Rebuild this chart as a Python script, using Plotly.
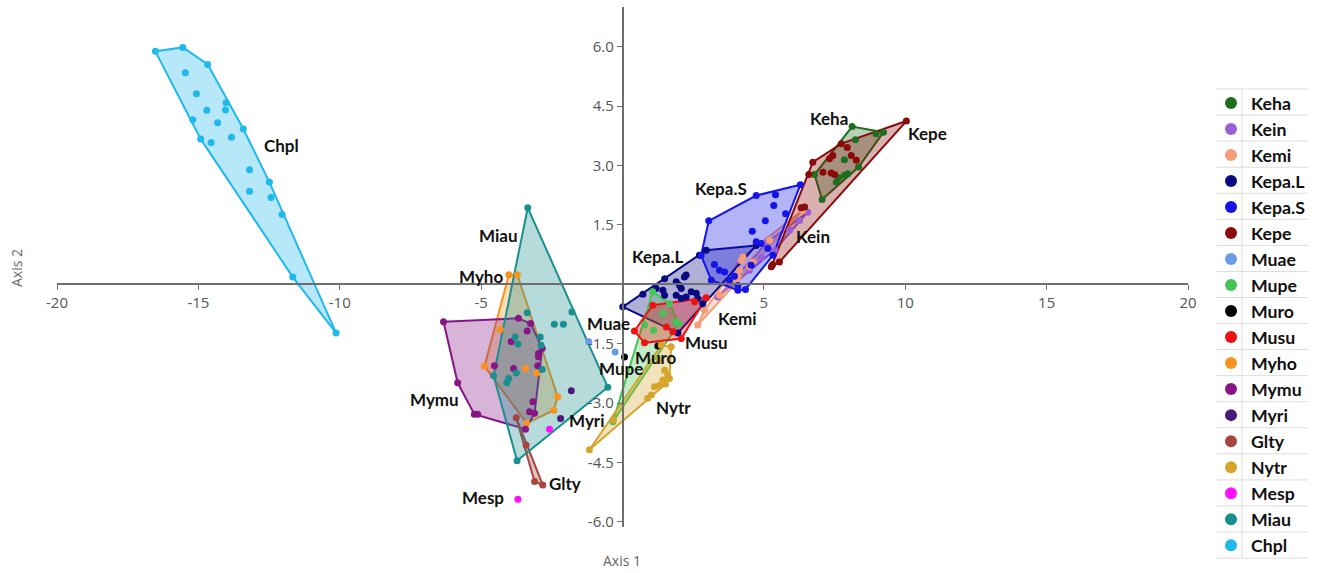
import plotly.graph_objects as go

# ---------------- data ----------------
GROUPS = ["Keha", "Kein", "Kemi", "Kepa.L", "Kepa.S", "Kepe", "Muae", "Mupe", "Muro",
          "Musu", "Myho", "Mymu", "Myri", "Glty", "Nytr", "Mesp", "Miau", "Chpl"]

KEHA_X = [8.12, 8.97, 9.23, 8.35, 7.06, 6.79, 8.24, 7.85, 7.65, 7.85, 7.97, 7.56]
KEHA_Y = [3.98, 3.80, 3.84, 2.96, 2.14, 2.77, 3.65, 3.14, 2.69, 2.75, 2.79, 2.58]

KEIN_X = [3.37, 3.96, 4.49, 4.91, 5.14, 5.38, 5.91, 6.26, 6.55]
KEIN_Y = [-0.32, 0.03, 0.35, 0.67, 1.07, 0.86, 1.36, 1.61, 1.82]

KEMI_X = [2.66, 2.90, 3.43, 4.02, 4.08, 4.14, 4.20, 4.26, 4.49, 4.61, 5.20, 6.38]
KEMI_Y = [-1.03, -0.66, -0.28, 0.10, 0.18, 0.35, 0.60, 0.69, 0.44, 0.56, 1.11, 1.87]

KEPAL_X = [0.01, 0.72, 1.19, 1.43, 1.49, 1.49, 1.90, 2.02, 2.08, 2.19, 2.25, 1.90,
           2.08, 2.25, 2.43, 2.61, 2.66, 2.84, 1.96, 2.72, 2.96, 4.73]
KEPAL_Y = [-0.57, -0.25, -0.11, -0.15, -0.28, 0.14, 0.06, -0.03, -0.11, 0.18, 0.23, -0.28,
           -0.36, -0.32, -0.19, -0.23, -0.36, -0.49, -1.23, 0.73, 0.86, 0.98]

KEPAS_X = [3.05, 4.73, 5.41, 6.29, 5.32, 4.35, 4.08, 3.14, 2.78, 5.35, 5.77, 5.05,
           4.59, 4.73, 4.90, 5.14, 3.25, 3.43, 3.61, 3.78, 3.96, 4.55, 4.08]
KEPAS_Y = [1.60, 2.24, 2.26, 2.51, 0.73, -0.13, -0.15, 0.10, 0.73, 1.99, 1.78, 1.60,
           1.34, 1.07, 1.03, 0.90, 0.50, 0.35, 0.31, 0.10, 0.20, 0.48, -0.03]

KEPE_X = [10.04, 6.73, 6.59, 5.31, 5.26, 5.55, 7.74, 7.44, 7.32, 8.09, 8.27, 7.09,
          7.38, 7.50, 6.32, 6.44, 7.95]
KEPE_Y = [4.12, 3.08, 2.77, 0.50, 0.44, 0.56, 3.55, 3.25, 3.17, 3.25, 3.13, 2.83,
          2.81, 2.77, 1.93, 1.95, 3.45]

MUAE_X = [-1.19, -0.26]
MUAE_Y = [-1.45, -1.71]

MUPE_X = [1.07, 1.66, 1.99, 1.43, 0.78, 1.10, -0.34, 1.90]
MUPE_Y = [-0.19, -0.49, -0.99, -0.74, -1.03, -1.16, -3.47, -0.95]

MURO_X = [0.07, 1.25]
MURO_Y = [-1.84, -1.56]

MUSU_X = [1.07, 2.96, 2.08, 0.78, 0.42, 1.55, 1.78, 2.55]
MUSU_Y = [-0.53, -0.34, -1.37, -1.48, -1.18, -1.08, -1.20, -0.44]

MYHO_X = [-4.02, -3.72, -4.88, -2.29, -2.43, -3.39, -4.32, -3.43, -3.03]
MYHO_Y = [0.24, 0.24, -2.07, -2.84, -3.18, -3.51, -1.14, -2.13, -2.24]

MYMU_X = [-6.33, -3.68, -3.25, -2.84, -3.11, -3.43, -5.24, -5.12, -5.83, -3.37,
          -3.94, -2.97, -2.97, -4.53, -3.85, -3.00, -3.17, -3.29]
MYMU_Y = [-0.95, -0.86, -0.99, -1.62, -3.26, -3.66, -3.28, -3.28, -2.49, -1.18,
          -1.45, -1.75, -1.83, -2.06, -2.13, -2.06, -2.97, -3.22]

MYRI_X = [-1.81, -2.19]
MYRI_Y = [-2.69, -3.39]

GLTY_X = [-3.76, -3.41, -3.11, -2.82]
GLTY_Y = [-3.37, -4.06, -4.98, -5.07]

NYTR_X = [-1.17, -0.32, 1.37, 1.72, 1.66, 0.89, 1.31, 1.49, 1.60, 1.43, 1.31, 1.13, 1.02, 1.52]
NYTR_Y = [-4.18, -3.43, -1.54, -1.58, -2.38, -2.88, -1.92, -2.17, -2.29, -2.42, -2.55, -2.59, -2.80, -2.52]

MESP_X = [-2.58, -3.70]
MESP_Y = [-3.66, -5.43]

MIAU_X = [-3.35, -0.52, -3.73, -4.56, -3.37, -1.79, -2.41, -2.09, -3.80, -2.91,
          -3.70, -2.88, -2.84, -3.76, -4.03, -4.09]
MIAU_Y = [1.93, -2.60, -4.46, -2.31, -0.72, -0.70, -1.01, -1.01, -1.33, -1.33,
          -1.51, -1.54, -2.15, -2.24, -2.38, -2.49]

CHPL_X = [-16.52, -15.55, -14.67, -15.46, -15.07, -14.02, -14.04, -14.70, -15.20, -14.32,
          -13.41, -14.92, -14.55, -13.83, -13.19, -12.49, -13.19, -12.43, -12.04, -11.66, -10.13]
CHPL_Y = [5.88, 5.98, 5.55, 5.34, 4.81, 4.58, 4.40, 4.39, 4.15, 4.08,
          3.92, 3.67, 3.58, 3.71, 2.89, 2.58, 2.35, 2.19, 1.76, 0.18, -1.23]

X_TICKS = [-20, -15, -10, -5, 5, 10, 15, 20]
Y_TICKS = [-6.0, -4.5, -3.0, -1.5, 1.5, 3.0, 4.5, 6.0]

# ---------------- styling ----------------
COLORS = {
    "Keha": "#1d6e1d", "Kein": "#9a5fd6", "Kemi": "#f59c78", "Kepa.L": "#0a0a80",
    "Kepa.S": "#1414e6", "Kepe": "#8b0a0a", "Muae": "#6a9be8", "Mupe": "#44c455",
    "Muro": "#000000", "Musu": "#ee1111", "Myho": "#f7931e", "Mymu": "#861686",
    "Myri": "#4a1a7a", "Glty": "#a8433e", "Nytr": "#d6a52c", "Mesp": "#ff10ff",
    "Miau": "#1a8f8f", "Chpl": "#1fb9ec",
}

LABEL_POS = {
    "Keha": (7.29, 4.18), "Kepe": (10.79, 3.81), "Kepa.S": (3.50, 2.42),
    "Kein": (6.72, 1.21), "Kepa.L": (1.24, 0.71), "Kemi": (4.07, -0.86),
    "Musu": (2.97, -1.46), "Muae": (-0.50, -1.00), "Muro": (1.17, -1.84),
    "Mupe": (-0.04, -2.12), "Nytr": (1.80, -3.10), "Myri": (-1.24, -3.44),
    "Glty": (-2.05, -5.02), "Mesp": (-4.92, -5.39), "Mymu": (-6.65, -2.92),
    "Myho": (-5.02, 0.20), "Miau": (-4.42, 1.24), "Chpl": (-12.06, 3.50),
}

DATA = {
    "Keha": (KEHA_X, KEHA_Y), "Kein": (KEIN_X, KEIN_Y), "Kemi": (KEMI_X, KEMI_Y),
    "Kepa.L": (KEPAL_X, KEPAL_Y), "Kepa.S": (KEPAS_X, KEPAS_Y), "Kepe": (KEPE_X, KEPE_Y),
    "Muae": (MUAE_X, MUAE_Y), "Mupe": (MUPE_X, MUPE_Y), "Muro": (MURO_X, MURO_Y),
    "Musu": (MUSU_X, MUSU_Y), "Myho": (MYHO_X, MYHO_Y), "Mymu": (MYMU_X, MYMU_Y),
    "Myri": (MYRI_X, MYRI_Y), "Glty": (GLTY_X, GLTY_Y), "Nytr": (NYTR_X, NYTR_Y),
    "Mesp": (MESP_X, MESP_Y), "Miau": (MIAU_X, MIAU_Y), "Chpl": (CHPL_X, CHPL_Y),
}


def hex_rgba(h, a):
    h = h.lstrip("#")
    return "rgba(%d,%d,%d,%.2f)" % (int(h[0:2], 16), int(h[2:4], 16), int(h[4:6], 16), a)


def convex_hull(xs, ys):
    pts = sorted(set(zip(xs, ys)))
    if len(pts) < 3:
        return pts

    def cross(o, a, b):
        return (a[0] - o[0]) * (b[1] - o[1]) - (a[1] - o[1]) * (b[0] - o[0])

    lower = []
    for p in pts:
        while len(lower) >= 2 and cross(lower[-2], lower[-1], p) <= 0:
            lower.pop()
        lower.append(p)
    upper = []
    for p in reversed(pts):
        while len(upper) >= 2 and cross(upper[-2], upper[-1], p) <= 0:
            upper.pop()
        upper.append(p)
    return lower[:-1] + upper[:-1]


fig = go.Figure()

# convex hulls
for g in GROUPS:
    xs, ys = DATA[g]
    if len(xs) < 3:
        continue
    hull = convex_hull(xs, ys)
    hx = [p[0] for p in hull] + [hull[0][0]]
    hy = [p[1] for p in hull] + [hull[0][1]]
    fig.add_trace(go.Scatter(
        x=hx, y=hy, mode="lines", fill="toself",
        fillcolor=hex_rgba(COLORS[g], 0.32),
        line=dict(color=COLORS[g], width=2),
        showlegend=False, hoverinfo="skip",
    ))

# points
for g in GROUPS:
    xs, ys = DATA[g]
    fig.add_trace(go.Scatter(
        x=xs, y=ys, mode="markers", name=g,
        marker=dict(color=COLORS[g], size=7, line=dict(width=0)),
    ))

LABEL_FONT = dict(family="Lato", size=17, color="#111111", weight="bold")
for g in GROUPS:
    lx, ly = LABEL_POS[g]
    fig.add_annotation(x=lx, y=ly, xref="x", yref="y", text=g, showarrow=False,
                       font=LABEL_FONT, xanchor="center", yanchor="middle")

# ---- layout geometry (pixels of the 1317x573 page) ----
W, H = 1317, 573
PLOT_L, PLOT_R, PLOT_T, PLOT_B = 57, 1188, 7, 527


def px_x(px):
    return (px - PLOT_L) / (PLOT_R - PLOT_L)


def px_y(py):
    return (PLOT_B - py) / (PLOT_B - PLOT_T)


# axis titles
fig.add_annotation(x=px_x(622), y=px_y(560), xref="paper", yref="paper", text="Axis 1",
                   xanchor="center", yanchor="middle", showarrow=False,
                   font=dict(family="Open Sans", size=14, color="#666666"))
fig.add_annotation(x=px_x(16), y=px_y(268), xref="paper", yref="paper", text="Axis 2",
                   xanchor="center", yanchor="middle", textangle=-90, showarrow=False,
                   font=dict(family="Open Sans", size=14, color="#666666"))

# light table lines behind the legend
ROW_TOP, ROW_H, N_ROWS = 89, 26.06, len(GROUPS)
GRID = "#dcdcdc"
fig.add_shape(type="line", xref="paper", yref="paper",
              x0=px_x(1242), x1=px_x(1242), y0=px_y(ROW_TOP), y1=px_y(ROW_TOP + ROW_H * N_ROWS),
              line=dict(color=GRID, width=1), layer="below")
for k in range(N_ROWS + 1):
    yy = px_y(ROW_TOP + ROW_H * k)
    fig.add_shape(type="line", xref="paper", yref="paper",
                  x0=px_x(1216), x1=px_x(1308), y0=yy, y1=yy,
                  line=dict(color=GRID, width=1), layer="below")

Y_MIN, Y_MAX = -6.13, 7.0
X_MIN, X_MAX = -20, 20

AX_COLOR = "#6e6e6e"
TICK_FONT = dict(family="Open Sans", size=15, color="#555555")

fig.update_layout(
    width=W, height=H, autosize=False,
    margin=dict(l=PLOT_L, r=W - PLOT_R, t=PLOT_T, b=H - PLOT_B, autoexpand=False),
    paper_bgcolor="white", plot_bgcolor="white",
    showlegend=True,
    legend=dict(
        xref="container", yref="container",
        x=1211 / W, xanchor="left", y=1 - 85 / H, yanchor="top",
        maxheight=560,
        font=dict(family="Lato", size=17.7, color="#111111", weight="bold"),
        bgcolor="rgba(255,255,255,0)", borderwidth=0, tracegroupgap=0,
        itemsizing="constant",
    ),
    xaxis=dict(
        range=[X_MIN, X_MAX], showgrid=False, zeroline=False,
        showline=True, linecolor=AX_COLOR, linewidth=1.5,
        anchor="free", position=(0 - Y_MIN) / (Y_MAX - Y_MIN),
        ticks="outside", ticklen=5, tickwidth=1.2, tickcolor=AX_COLOR,
        tickvals=X_TICKS, ticktext=[str(v) for v in X_TICKS], tickfont=TICK_FONT,
    ),
    yaxis=dict(
        range=[Y_MIN, Y_MAX], showgrid=False, zeroline=False,
        showline=True, linecolor=AX_COLOR, linewidth=1.5,
        anchor="free", position=(0 - X_MIN) / (X_MAX - X_MIN),
        ticks="outside", ticklen=5, tickwidth=1.2, tickcolor=AX_COLOR,
        tickvals=Y_TICKS, ticktext=["%.1f" % v for v in Y_TICKS], tickfont=TICK_FONT,
    ),
)

fig.write_html("out.html", config={"displayModeBar": False},
               post_script="document.body.style.margin='0px';")
